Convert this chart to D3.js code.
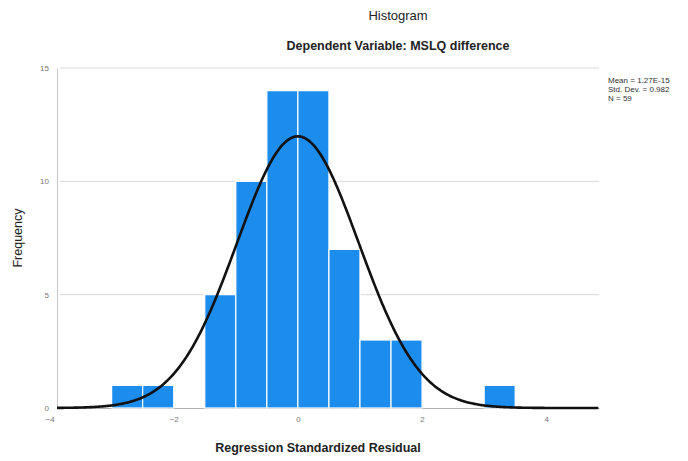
<!DOCTYPE html>
<html>
<head>
<meta charset="utf-8">
<script src="https://cdn.jsdelivr.net/npm/d3@7"></script>
<style>
  html, body { margin: 0; padding: 0; background: #fff; }
  svg { display: block; font-family: "Liberation Sans", Arial, sans-serif; }
</style>
</head>
<body>
<svg id="chart" width="688" height="461"></svg>
<script>
// Histogram of regression standardized residuals (bin width 0.5)
const binStarts = [-3.0, -2.5, -2.0, -1.5, -1.0, -0.5, 0.0, 0.5, 1.0, 1.5, 2.0, 2.5, 3.0];
const binCounts = [1, 1, 0, 5, 10, 14, 14, 7, 3, 3, 0, 0, 1];
const binWidth = 0.5;

// Summary statistics shown in the legend, used for the normal curve
const statLabels = ["Mean = 1.27E-15", "Std. Dev. = 0.982", "N = 59"];
const mean = 0;
const stdDev = 0.982;
const nObs = 59;

const xTicks = [-4, -2, 0, 2, 4];
const yTicks = [0, 5, 10, 15];

const svg = d3.select("#chart");

const x = d3.scaleLinear().domain([-3.88, 4.85]).range([57, 599]);
const y = d3.scaleLinear().domain([0, 15]).range([408, 68]);

// horizontal grid lines
svg.append("g")
  .selectAll("line")
  .data(yTicks.filter(t => t > 0))
  .join("line")
  .attr("x1", x(-3.88) + 3).attr("x2", x(4.85))
  .attr("y1", d => y(d)).attr("y2", d => y(d))
  .attr("stroke", "#d9d9d9").attr("stroke-width", 1);

// y axis
const yAxis = svg.append("g")
  .attr("transform", `translate(${x(-3.88)},0)`)
  .call(d3.axisLeft(y).tickValues(yTicks).tickSize(0).tickPadding(8));
yAxis.select(".domain").attr("stroke", "#c8c8c8");
yAxis.selectAll("text").attr("fill", "#777").attr("font-size", 8);

// x axis
const xAxis = svg.append("g")
  .attr("transform", `translate(0,${y(0)})`)
  .call(d3.axisBottom(x).tickValues(xTicks).tickSize(0).tickPadding(8));
xAxis.select(".domain").attr("stroke", "#b0b0b0");
xAxis.selectAll("text").attr("fill", "#777").attr("font-size", 8);

// bars
svg.append("g")
  .selectAll("rect")
  .data(binStarts.map((s, i) => ({ s, c: binCounts[i] })).filter(d => d.c > 0))
  .join("rect")
  .attr("x", d => x(d.s))
  .attr("width", d => x(d.s + binWidth) - x(d.s))
  .attr("y", d => y(d.c))
  .attr("height", d => y(0) - y(d.c))
  .attr("fill", "#1c8ded")
  .attr("stroke", "#ffffff")
  .attr("stroke-width", 1.2);

// fitted normal curve scaled to counts
const pdf = v => Math.exp(-0.5 * ((v - mean) / stdDev) ** 2) / (stdDev * Math.sqrt(2 * Math.PI));
const curvePts = d3.range(-3.88, 4.85 + 1e-9, 0.02).map(v => [v, nObs * binWidth * pdf(v)]);
svg.append("path")
  .datum(curvePts)
  .attr("fill", "none")
  .attr("stroke", "#111")
  .attr("stroke-width", 2.6)
  .attr("d", d3.line().x(d => x(d[0])).y(d => y(d[1])));

// titles
svg.append("text").attr("x", 398).attr("y", 20).attr("text-anchor", "middle")
  .attr("font-size", 13).attr("fill", "#222").text("Histogram");
svg.append("text").attr("x", 398).attr("y", 50).attr("text-anchor", "middle")
  .attr("font-size", 12.5).attr("font-weight", "bold").attr("fill", "#222")
  .text("Dependent Variable: MSLQ difference");

// axis titles
svg.append("text").attr("x", 318).attr("y", 452).attr("text-anchor", "middle")
  .attr("font-size", 12.5).attr("font-weight", "bold").attr("fill", "#222")
  .text("Regression Standardized Residual");
svg.append("text")
  .attr("transform", "translate(22,238) rotate(-90)")
  .attr("text-anchor", "middle")
  .attr("font-size", 12.5).attr("fill", "#222")
  .text("Frequency");

// statistics legend
svg.append("g")
  .selectAll("text")
  .data(statLabels)
  .join("text")
  .attr("x", 608)
  .attr("y", (d, i) => 83 + i * 9)
  .attr("font-size", 8)
  .attr("fill", "#333")
  .text(d => d);
</script>
</body>
</html>
